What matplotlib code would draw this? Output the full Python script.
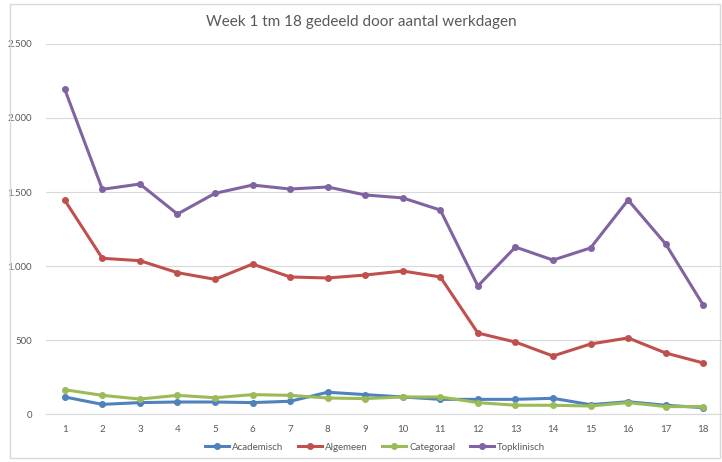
import matplotlib
matplotlib.use("Agg")
import matplotlib.pyplot as plt
from matplotlib.patches import Rectangle
from matplotlib.ticker import FuncFormatter

weeks = list(range(1, 19))
academisch = [115, 65, 77, 81, 81, 77, 86, 147, 131, 115, 99, 99, 99, 106, 63, 83, 59, 43]
algemeen = [1444, 1052, 1036, 955, 910, 1013, 926, 919, 939, 966, 926, 547, 486, 392, 473, 514, 412, 345]
categoraal = [164, 126, 101, 126, 110, 131, 126, 108, 104, 115, 115, 77, 59, 59, 54, 77, 50, 50]
topklinisch = [2194, 1518, 1554, 1351, 1491, 1547, 1520, 1534, 1480, 1460, 1378, 865, 1128, 1040, 1122, 1446, 1149, 736]

series = [("Academisch", academisch, "#4F81BD"),
          ("Algemeen", algemeen, "#C0504D"),
          ("Categoraal", categoraal, "#9BBB59"),
          ("Topklinisch", topklinisch, "#8064A2")]

plt.rcParams['font.family'] = ['Lato', 'DejaVu Sans']

fig = plt.figure(figsize=(7.22, 4.62), dpi=100)
fig.patches.append(Rectangle((10/722, 4/462), 710/722, 454/462, transform=fig.transFigure,
                             fill=False, edgecolor="#D9D9D9", linewidth=1))
ax = fig.add_axes([46/722, 48/462, 676/722, (414-44)/462])

for name, vals, col in series:
    ax.plot(weeks, vals, color=col, linewidth=2.2, marker='o', markersize=4, label=name)

ax.set_xlim(0.5, 18.5)
ax.set_ylim(0, 2500)
ax.set_yticks([0, 500, 1000, 1500, 2000, 2500])
ax.yaxis.set_major_formatter(FuncFormatter(lambda v, p: f"{int(v):,}".replace(",", ".")))
ax.set_xticks(weeks)
ax.grid(axis='y', color="#D9D9D9", linewidth=0.8)
ax.set_axisbelow(True)
for s in ['top', 'right', 'left']:
    ax.spines[s].set_visible(False)
ax.spines['bottom'].set_color("#D9D9D9")
ax.tick_params(axis='both', length=0, labelsize=7, colors="#595959", pad=8)
ax.tick_params(axis='y', pad=10)

fig.text(0.5, 1 - 22/462, "Week 1 tm 18 gedeeld door aantal werkdagen", ha='center', va='center',
         fontsize=11, color="#595959")

fig.legend(loc='center', bbox_to_anchor=(375/722, 1 - 447/462), ncol=4, frameon=False,
           fontsize=7, labelcolor="#595959", handlelength=2.5, columnspacing=1.5, handletextpad=0.3)

fig.savefig("out.png", dpi=100, facecolor="white")
